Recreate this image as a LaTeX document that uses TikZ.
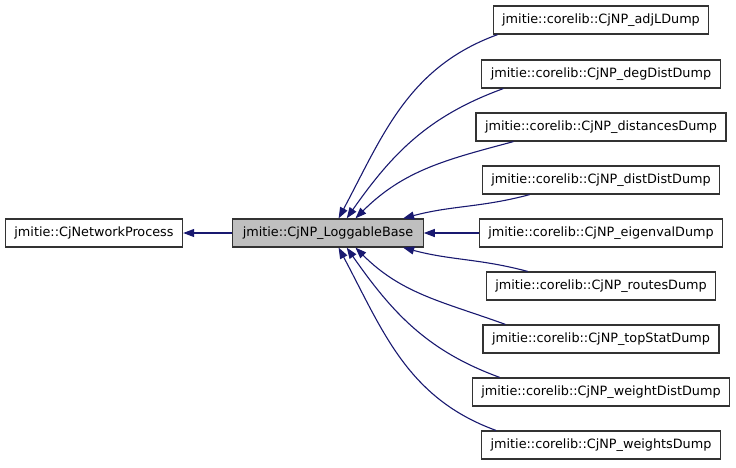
\documentclass[tikz,border=0pt]{standalone}
\usepackage{fontspec}
\setmainfont{DejaVu Sans}
\usepackage{tikz}
\usetikzlibrary{arrows.meta}
\usepackage[usenames,dvipsnames]{xcolor}
\definecolor{edgeblue}{RGB}{25,25,112}
\definecolor{basegray}{RGB}{191,191,191}
\def\thickness{1.2pt}
\tikzset{classbox/.style={draw=black!80, line width=\thickness, fill=white,
    minimum height=28pt, inner xsep=9pt, inner ysep=0pt,
    font=\fontsize{12.8pt}{15pt}\selectfont}}
\tikzset{basebox/.style={classbox, fill=basegray, inner xsep=10pt}}
\tikzset{inherit/.style={draw=edgeblue, line width=1.1pt,
    -{Triangle[length=11pt,width=8pt]}}}

\begin{document}
\begin{tikzpicture}[x=1pt,y=1pt]

\def\col{601} %% x of the derived classes
\useasboundingbox (0,0) rectangle (736,-467);

\node [basebox] (loggable) at (328,-233) {jmitie::CjNP\_LoggableBase};
\node [classbox] (netproc) at (94,-233) {jmitie::CjNetworkProcess};

\node [classbox] (adjl) at (\col,-20) {jmitie::corelib::CjNP\_adjLDump};
\node [classbox] (degdist) at (\col,-74) {jmitie::corelib::CjNP\_degDistDump};
\node [classbox] (distances) at (\col,-127) {jmitie::corelib::CjNP\_distancesDump};
\node [classbox] (distdist) at (\col,-180) {jmitie::corelib::CjNP\_distDistDump};
\node [classbox] (eigenval) at (\col,-233) {jmitie::corelib::CjNP\_eigenvalDump};
\node [classbox] (routes) at (\col,-286) {jmitie::corelib::CjNP\_routesDump};
\node [classbox] (topstat) at (\col,-339) {jmitie::corelib::CjNP\_topStatDump};
\node [classbox] (weightdist) at (\col,-392) {jmitie::corelib::CjNP\_weightDistDump};
\node [classbox] (weights) at (\col,-445) {jmitie::corelib::CjNP\_weightsDump};

\draw[inherit] (loggable) -- (netproc);

%% derived classes, top half
\draw[inherit] ([xshift=5pt]adjl.south west) to[out=200,in=62] (loggable.54);
\draw[inherit] ([xshift=22pt]degdist.south west) to[out=200,in=55] (loggable.38);
\draw[inherit] ([xshift=38pt]distances.south west) to[out=195,in=45] (loggable.28);
\draw[inherit] ([xshift=48pt]distdist.south west) to[out=195,in=15] (loggable.11);
\draw[inherit] (eigenval) -- (loggable);
%% derived classes, bottom half
\draw[inherit] ([xshift=42pt]routes.north west) to[out=165,in=-15] (loggable.-11);
\draw[inherit] ([xshift=23pt]topstat.north west) to[out=160,in=-45] (loggable.-28);
\draw[inherit] ([xshift=28pt]weightdist.north west) to[out=160,in=-55] (loggable.-38);
\draw[inherit] ([xshift=15pt]weights.north west) to[out=160,in=-62] (loggable.-54);

\end{tikzpicture}
\end{document}
